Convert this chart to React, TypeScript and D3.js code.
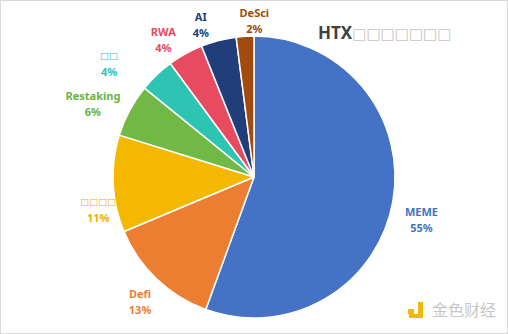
import React from "react";
import * as d3 from "d3";

const categories = ["MEME", "Defi", "□□□□", "Restaking", "□□", "RWA", "AI", "DeSci"];
const values = [55, 13, 11, 6, 4, 4, 4, 2];
const percentLabels = ["55%", "13%", "11%", "6%", "4%", "4%", "4%", "2%"];
const sliceColors = ["#4472C4", "#ED7D31", "#F5B800", "#6FB944", "#2EC4B4", "#E84A5F", "#203F7A", "#A24A10"];
const labelColors = ["#4472C4", "#ED7D31", "#EDB200", "#6AB23F", "#2EC4B4", "#E84A5F", "#203F7A", "#A24A10"];
const titleMain = "HTX";
const titleRest = "□□□□□□□";
const watermark = "金色财经";

// label nudges (layout only), relative to the outside-end position
const labelNudgeX = [2, 2, 12, -13, -29, -9, -11, 11];
const labelNudgeY = [13, 2, 24, 5, 8, 9, 10, 11];

const W = 508;
const H = 334;
const cx = 254;
const cy = 177;
const R = 141;

const isTofu = (s: string) => /^□+$/.test(s);

export default function App() {
  const pie = d3.pie<number>().sort(null).value((d) => d)(values);
  const arc = d3.arc<d3.PieArcDatum<number>>().innerRadius(0).outerRadius(R);
  const fontLabel = "'Noto Sans', 'DejaVu Sans', sans-serif";

  const labels = pie.map((p, i) => {
    const a = (p.startAngle + p.endAngle) / 2;
    const ux = Math.sin(a);
    const uy = -Math.cos(a);
    const w = 30;
    const h = 30;
    const g = 12;
    const x = cx + ux * (R + g) + ux * w / 2 + labelNudgeX[i];
    const y = cy + uy * (R + g) + uy * h / 2 + labelNudgeY[i];
    return { x, y, i };
  });

  return (
    <svg width={W} height={H} style={{ position: "fixed", left: 0, top: 0, background: "#fff" }}>
      <rect x={0.5} y={0.5} width={W - 1} height={H - 1} fill="#fff" stroke="#d9d9d9" />
      <g transform={`translate(${cx},${cy})`}>
        {pie.map((p, i) => (
          <path key={i} d={arc(p) || ""} fill={sliceColors[i]} stroke="#fff" strokeWidth={1.5} strokeLinejoin="round" />
        ))}
      </g>
      {labels.map(({ x, y, i }) => (
        <text key={i} x={x} textAnchor="middle" fontFamily={fontLabel} fontWeight="bold" fontSize={11} fill={labelColors[i]}>
          {isTofu(categories[i]) ? (
            <tspan x={x} y={y - 4} fontFamily="'DejaVu Sans', sans-serif" fontWeight="normal" fontSize={9.5}>{categories[i]}</tspan>
          ) : (
            <tspan x={x} y={y - 3}>{categories[i]}</tspan>
          )}
          <tspan x={x} y={y + 13}>{percentLabels[i]}</tspan>
        </text>
      ))}
      <text x={318} y={39} fontFamily="'Noto Sans', 'DejaVu Sans', sans-serif" fontWeight="bold" fontSize={17} fill="#404040">
        {titleMain}
        <tspan fontFamily="'DejaVu Sans', sans-serif" fontWeight="normal" fontSize={15} fill="#c4c4c4">{titleRest}</tspan>
      </text>
      <g fill="#F0B90B">
        <rect x={408} y={309} width={6} height={5} />
        <path d="M418,302 h5 v16 h-14 v-4 h9 z" />
      </g>
      <text x={432} y={316} fontFamily="'Noto Sans CJK SC', sans-serif" fontSize={16} fill="#c8c8c8">{watermark}</text>
    </svg>
  );
}
